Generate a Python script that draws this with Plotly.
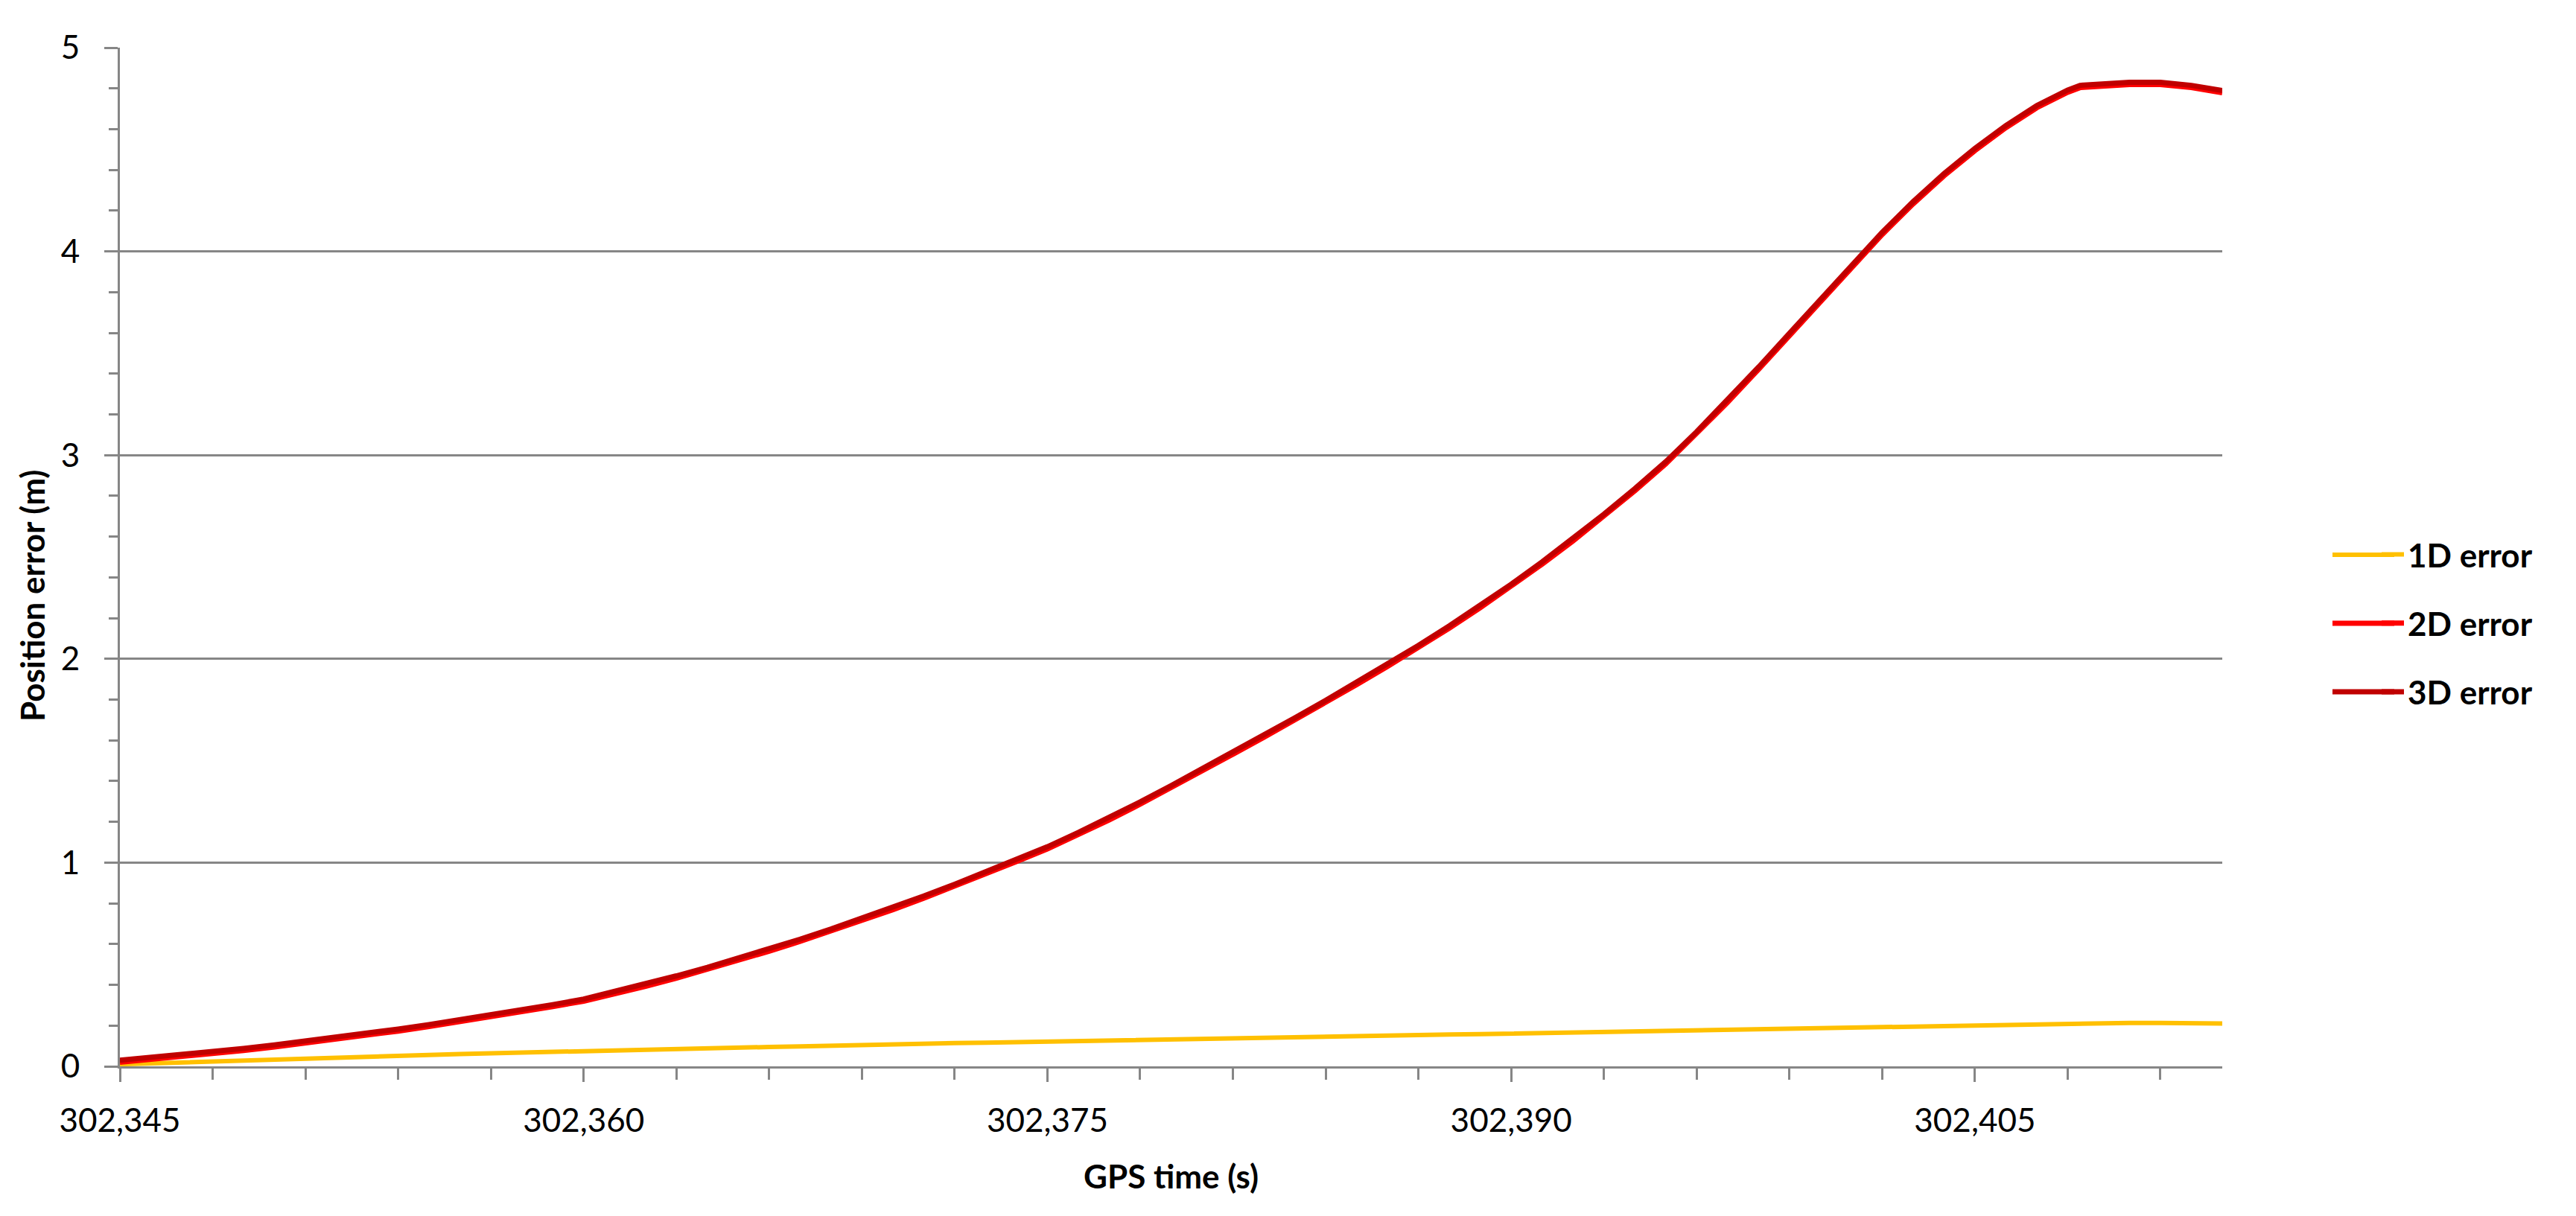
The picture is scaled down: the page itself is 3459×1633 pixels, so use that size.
import plotly.graph_objects as go

# ---- data ----
gps_time = [302345, 302346, 302347, 302348, 302349, 302350, 302351, 302352, 302353, 302354,
            302355, 302356, 302357, 302358, 302359, 302360, 302361, 302362, 302363, 302364,
            302365, 302366, 302367, 302368, 302369, 302370, 302371, 302372, 302373, 302374,
            302375, 302376, 302377, 302378, 302379, 302380, 302381, 302382, 302383, 302384,
            302385, 302386, 302387, 302388, 302389, 302390, 302391, 302392, 302393, 302394,
            302395, 302396, 302397, 302398, 302399, 302400, 302401, 302402, 302403, 302404,
            302405, 302406, 302407, 302408, 302408.4, 302409, 302410, 302411, 302412, 302413]

err_1d = [0.010, 0.015, 0.020, 0.025, 0.030, 0.034, 0.039, 0.043, 0.048, 0.052,
          0.056, 0.060, 0.064, 0.068, 0.071, 0.075, 0.078, 0.082, 0.085, 0.089,
          0.092, 0.095, 0.098, 0.102, 0.105, 0.108, 0.111, 0.114, 0.116, 0.119,
          0.122, 0.125, 0.127, 0.130, 0.132, 0.135, 0.138, 0.140, 0.143, 0.145,
          0.148, 0.151, 0.153, 0.156, 0.158, 0.161, 0.164, 0.166, 0.169, 0.171,
          0.174, 0.177, 0.179, 0.182, 0.184, 0.187, 0.190, 0.192, 0.195, 0.197,
          0.200, 0.203, 0.206, 0.209, 0.212, 0.212, 0.213, 0.213, 0.212, 0.210]

err_2d = [0.020, 0.033, 0.047, 0.062, 0.078, 0.095, 0.113, 0.132, 0.152, 0.173,
          0.195, 0.218, 0.242, 0.267, 0.293, 0.320, 0.355, 0.393, 0.433, 0.475,
          0.519, 0.565, 0.613, 0.663, 0.715, 0.769, 0.825, 0.883, 0.943, 1.005,
          1.067, 1.137, 1.209, 1.287, 1.367, 1.449, 1.532, 1.615, 1.699, 1.785,
          1.873, 1.963, 2.055, 2.151, 2.251, 2.355, 2.465, 2.579, 2.699, 2.825,
          2.957, 3.104, 3.259, 3.421, 3.587, 3.755, 3.921, 4.083, 4.233, 4.371,
          4.495, 4.607, 4.705, 4.781, 4.804, 4.811, 4.819, 4.819, 4.804, 4.779]

err_3d = [0.030, 0.043, 0.057, 0.072, 0.088, 0.105, 0.123, 0.142, 0.162, 0.183,
          0.205, 0.228, 0.252, 0.277, 0.303, 0.330, 0.366, 0.404, 0.444, 0.486,
          0.530, 0.576, 0.624, 0.674, 0.726, 0.780, 0.836, 0.894, 0.954, 1.016,
          1.078, 1.148, 1.220, 1.298, 1.378, 1.460, 1.543, 1.626, 1.710, 1.796,
          1.884, 1.974, 2.066, 2.162, 2.262, 2.366, 2.476, 2.590, 2.710, 2.836,
          2.968, 3.115, 3.270, 3.432, 3.598, 3.766, 3.932, 4.094, 4.244, 4.382,
          4.506, 4.618, 4.716, 4.792, 4.815, 4.822, 4.830, 4.830, 4.815, 4.790]

series_names = ["1D error", "2D error", "3D error"]
series_colors = ["#FFC000", "#FF0000", "#C00000"]
x_range = [302345, 302413]
y_range = [0, 5]

# ---- figure ----
# the page body has an 8 px margin, so the figure is laid out 8 px in from the window edge
OFF = 8
W, H = 3459 - 2 * OFF, 1633 - 2 * OFF
L, T = 161 - OFF, 64 - OFF
R = W - (2984 - OFF)
B = H - (1432 - OFF)
PW, PH = W - L - R, H - T - B
GRID = "#868686"
FONT = "Lato"


def px_to_paper_x(px):
    return (px - OFF - L) / PW


def px_to_paper_y(py):
    return (H - B - (py - OFF)) / PH


fig = go.Figure()
for name, ys, col, w in zip(series_names, [err_1d, err_2d, err_3d], series_colors, [6, 7, 7]):
    fig.add_trace(go.Scatter(x=gps_time, y=ys, name=name, mode="lines",
                             legendgroup=name, line=dict(color=col, width=w)))

# legend rows (window pixel centres) used to lengthen the legend keys
legend_rows_px = [745, 837, 929]
for col, w, ry in zip(series_colors, [6, 7, 7], legend_rows_px):
    fig.add_shape(type="line", xref="paper", yref="paper",
                  x0=px_to_paper_x(3132), x1=px_to_paper_x(3215),
                  y0=px_to_paper_y(ry), y1=px_to_paper_y(ry),
                  line=dict(color=col, width=w))

fig.add_annotation(text="<b>Position error (m)</b>", xref="paper", yref="paper",
                   x=px_to_paper_x(43), y=px_to_paper_y(800), xanchor="center",
                   yanchor="middle", textangle=-90, showarrow=False,
                   font=dict(family=FONT, size=44, color="#000000"))

fig.update_layout(
    width=W, height=H,
    margin=dict(l=L, r=R, t=T, b=B, pad=0, autoexpand=False),
    plot_bgcolor="white", paper_bgcolor="white",
    font=dict(family=FONT, size=44, color="#000000"),
    showlegend=True,
    legend=dict(x=px_to_paper_x(3193), xanchor="left", y=px_to_paper_y(837), yanchor="middle",
                font=dict(family=FONT, size=44, color="#000000", weight="bold"),
                bgcolor="rgba(0,0,0,0)", borderwidth=0, tracegroupgap=32, itemwidth=30),
    xaxis=dict(
        range=x_range, tickmode="linear", tick0=302345, dtick=15, tickformat=",d",
        ticks="outside", ticklen=18, tickwidth=3, tickcolor=GRID,
        showline=True, linecolor=GRID, linewidth=3, showgrid=False, zeroline=False,
        minor=dict(ticks="outside", ticklen=15, tickwidth=3, tickcolor=GRID,
                   tick0=302345, dtick=3, showgrid=False),
        tickfont=dict(family=FONT, size=44, color="#000000"),
        ticklabelstandoff=14,
        title=dict(text="GPS time (s)", standoff=38,
                   font=dict(family=FONT, size=44, color="#000000", weight="bold")),
    ),
    xaxis2=dict(
        overlaying="x", anchor="y", side="bottom", range=x_range,
        tickmode="linear", tick0=302345, dtick=15, ticks="inside", ticklen=14,
        tickwidth=3, tickcolor=GRID, showticklabels=False, showline=False,
        showgrid=False, zeroline=False,
        minor=dict(ticks="inside", ticklen=11, tickwidth=3, tickcolor=GRID,
                   tick0=302345, dtick=3, showgrid=False),
    ),
    yaxis=dict(
        range=y_range, tickmode="linear", tick0=0, dtick=1,
        ticks="outside", ticklen=18, tickwidth=3, tickcolor=GRID,
        showline=True, linecolor=GRID, linewidth=3,
        showgrid=True, gridcolor=GRID, gridwidth=3, zeroline=False,
        minor=dict(ticks="outside", ticklen=12, tickwidth=3, tickcolor=GRID,
                   tick0=0, dtick=0.2, showgrid=False),
        tickfont=dict(family=FONT, size=44, color="#000000"),
        ticklabelstandoff=24,
    ),
    yaxis2=dict(
        overlaying="y", anchor="x", side="left", range=y_range,
        tickmode="linear", tick0=0, dtick=1, ticks="", showticklabels=False,
        showline=False, showgrid=False, zeroline=False,
        minor=dict(ticks="inside", ticklen=15, tickwidth=3, tickcolor=GRID,
                   tick0=0, dtick=0.2, showgrid=False),
    ),
)

fig.write_html("out.html")
